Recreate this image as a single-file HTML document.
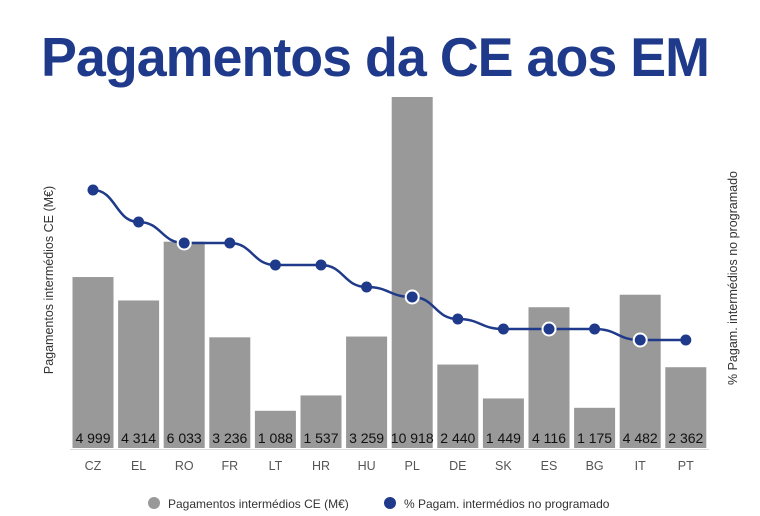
<!DOCTYPE html>
<html><head><meta charset="utf-8"><style>
body{margin:0;background:#fff;}
svg{display:block;font-family:"Liberation Sans",sans-serif;}
</style></head><body>
<svg width="760" height="516" viewBox="0 0 760 516" xmlns="http://www.w3.org/2000/svg">
<text x="375" y="76" text-anchor="middle" font-size="55" font-weight="bold" fill="#1f3a8a" letter-spacing="-1" textLength="668" lengthAdjust="spacingAndGlyphs">Pagamentos da CE aos EM</text>
<g id="bars" fill="#999"></g>
<line x1="70" y1="449.5" x2="709" y2="449.5" stroke="#ddd" stroke-width="1"/>
<g id="vals" font-size="14" fill="#111" text-anchor="middle"></g>
<g id="cats" font-size="12.5" fill="#555" text-anchor="middle"></g>
<path id="ln" fill="none" stroke="#1f3a8a" stroke-width="2.5"/>
<g id="pts"></g>
<text transform="translate(53,280) rotate(-90)" text-anchor="middle" font-size="12.5" fill="#333">Pagamentos intermédios CE (M€)</text>
<text transform="translate(737,278) rotate(-90)" text-anchor="middle" font-size="12.5" fill="#333">% Pagam. intermédios no programado</text>
<circle cx="154" cy="503" r="6" fill="#999"/>
<text x="168" y="508" font-size="12" fill="#333">Pagamentos intermédios CE (M€)</text>
<circle cx="390" cy="503" r="6" fill="#1f3a8a"/>
<text x="404" y="508" font-size="12" fill="#333">% Pagam. intermédios no programado</text>
</svg>
<script>
var c=["CZ","EL","RO","FR","LT","HR","HU","PL","DE","SK","ES","BG","IT","PT"];
var v=[4999,4314,6033,3236,1088,1537,3259,10918,2440,1449,4116,1175,4482,2362];
var ly=[190,222,243,243,265,265,287,297,319,329,329,329,340,340];
var ns="http://www.w3.org/2000/svg";
function el(t,a,p,tx){var e=document.createElementNS(ns,t);for(var k in a)e.setAttribute(k,a[k]);if(tx)e.textContent=tx;document.getElementById(p).appendChild(e);return e;}
var d="";
for(var i=0;i<14;i++){
 var x=93+i*45.6;
 var h=Math.min(v[i]*0.0342,351);
 el("rect",{x:x-20.5,y:448-h,width:41,height:h},"bars");
 var s=v[i].toString().replace(/\B(?=(\d{3})+(?!\d))/g," ");
 el("text",{x:x,y:443},"vals",s);
 el("text",{x:x,y:470},"cats",c[i]);
 if(i==0)d="M"+x+","+ly[0];
 else{var px=x-45.6;d+=" C"+(px+22.8)+","+ly[i-1]+" "+(x-22.8)+","+ly[i]+" "+x+","+ly[i];}
 var over=(448-h)<ly[i];
 el("circle",{cx:x,cy:ly[i],r:over?6.5:5.5,fill:"#1f3a8a",stroke:over?"#fff":"none","stroke-width":2},"pts");
}
document.getElementById("ln").setAttribute("d",d);
</script>
</body></html>
